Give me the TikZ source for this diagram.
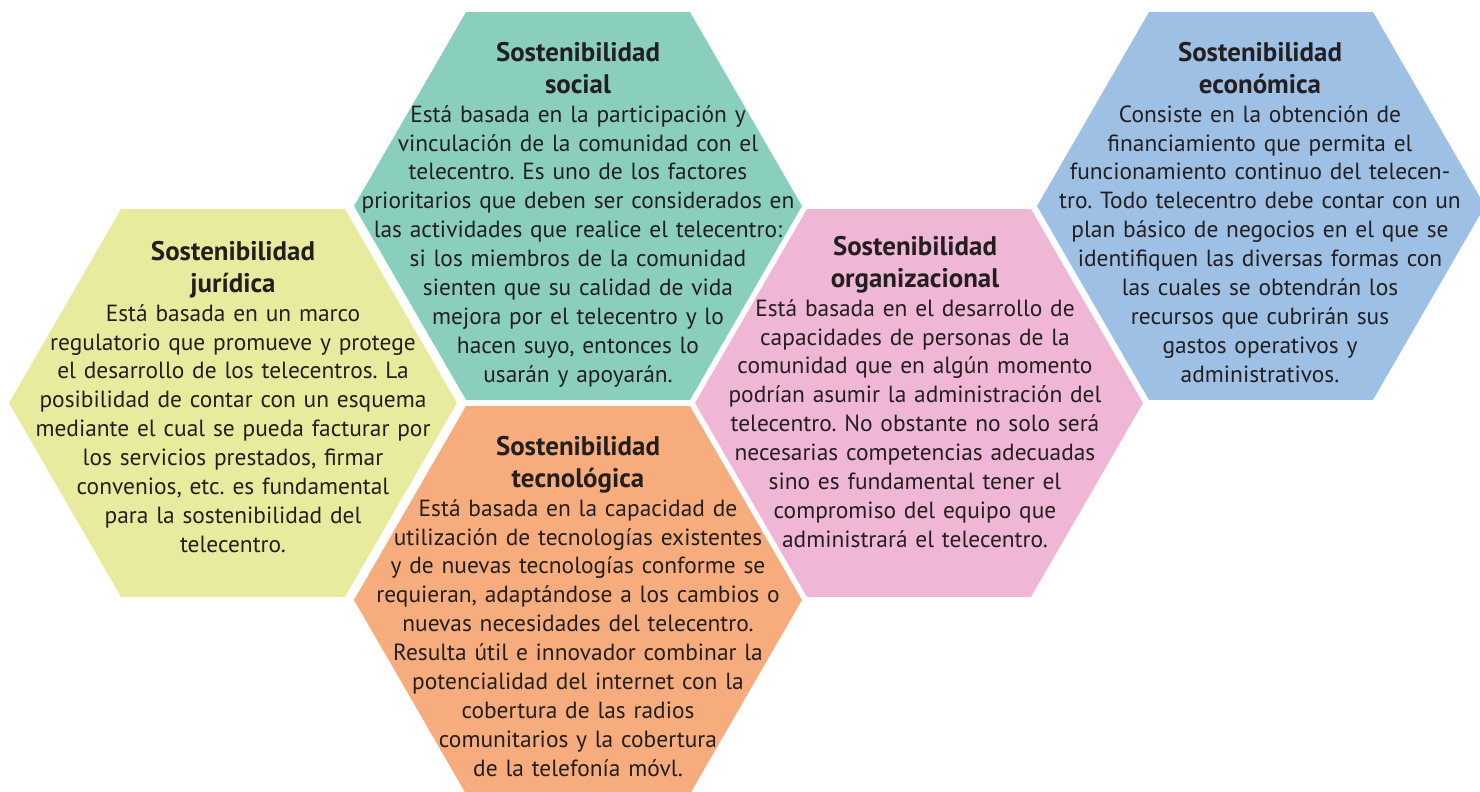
\documentclass[tikz,border=0pt]{standalone}
\usepackage{fontspec}
\setmainfont{PT Sans}
\definecolor{cjur}{RGB}{232,234,157}
\definecolor{csoc}{RGB}{138,206,189}
\definecolor{ctec}{RGB}{247,172,125}
\definecolor{corg}{RGB}{240,182,213}
\definecolor{ceco}{RGB}{157,192,228}
\definecolor{ink}{RGB}{35,31,32}
\newcommand{\hexttl}[1]{{\fontsize{27}{32}\selectfont\bfseries #1\par}}
\tikzset{
  hexbody/.style={text width=470bp, align=center, inner sep=0pt, text=ink,
    font=\fontsize{23.5}{29}\selectfont\frenchspacing, anchor=north},
}
\newcommand{\hexpath}[2]{\fill[#2] (#1) ++(0:224) -- ++(120:224) -- ++(180:224) -- ++(240:224) -- ++(300:224) -- ++(0:224) -- cycle;}
\begin{document}
\begin{tikzpicture}[x=1bp,y=-1bp]
\useasboundingbox (0,0) rectangle (1480,791);
\clip (0,0) rectangle (1480,791);
\coordinate (cJ) at (233,403);
\coordinate (cS) at (578,206);
\coordinate (cT) at (578,600);
\coordinate (cO) at (919,403);
\coordinate (cE) at (1261,206);
\hexpath{cJ}{cjur}
\hexpath{cS}{csoc}
\hexpath{cT}{ctec}
\hexpath{cO}{corg}
\hexpath{cE}{ceco}

\node[hexbody] (jur) at (233,241) {\hexttl{Sostenibilidad\\jurídica}Está basada en un marco\\
regulatorio que promueve y protege\\
el desarrollo de los telecentros. La\\
posibilidad de contar con un esquema\\
mediante el cual se pueda facturar por\\
los servicios prestados, firmar\\
convenios, etc. es fundamental\\
para la sostenibilidad del\\
telecentro.};

\node[hexbody] (soc) at (578,42) {\hexttl{Sostenibilidad\\social}Está basada en la participación y\\
vinculación de la comunidad con el\\
telecentro. Es uno de los factores\\
prioritarios que deben ser considerados en\\
las actividades que realice el telecentro:\\
si los miembros de la comunidad\\
sienten que su calidad de vida\\
mejora por el telecentro y lo\\
hacen suyo, entonces lo\\
usarán y apoyarán.};

\node[hexbody] (tec) at (578,436) {\hexttl{Sostenibilidad\\tecnológica}Está basada en la capacidad de\\
utilización de tecnologías existentes\\
y de nuevas tecnologías conforme se\\
requieran, adaptándose a los cambios o\\
nuevas necesidades del telecentro.\\
Resulta útil e innovador combinar la\\
potencialidad del internet con la\\
cobertura de las radios\\
comunitarios y la cobertura\\
de la telefonía móvl.};

\node[hexbody] (org) at (915,236) {\hexttl{Sostenibilidad\\organizacional}Está basada en el desarrollo de\\
capacidades de personas de la\\
comunidad que en algún momento\\
podrían asumir la administración del\\
telecentro. No obstante no solo será\\
necesarias competencias adecuadas\\
sino es fundamental tener el\\
compromiso del equipo que\\
administrará el telecentro.};

\node[hexbody] (eco) at (1260,42) {\hexttl{Sostenibilidad\\económica}Consiste en la obtención de\\
financiamiento que permita el\\
funcionamiento continuo del telecen-\\
tro. Todo telecentro debe contar con un\\
plan básico de negocios en el que se\\
identifiquen las diversas formas con\\
las cuales se obtendrán los\\
recursos que cubrirán sus\\
gastos operativos y\\
administrativos.};
\end{tikzpicture}
\end{document}
